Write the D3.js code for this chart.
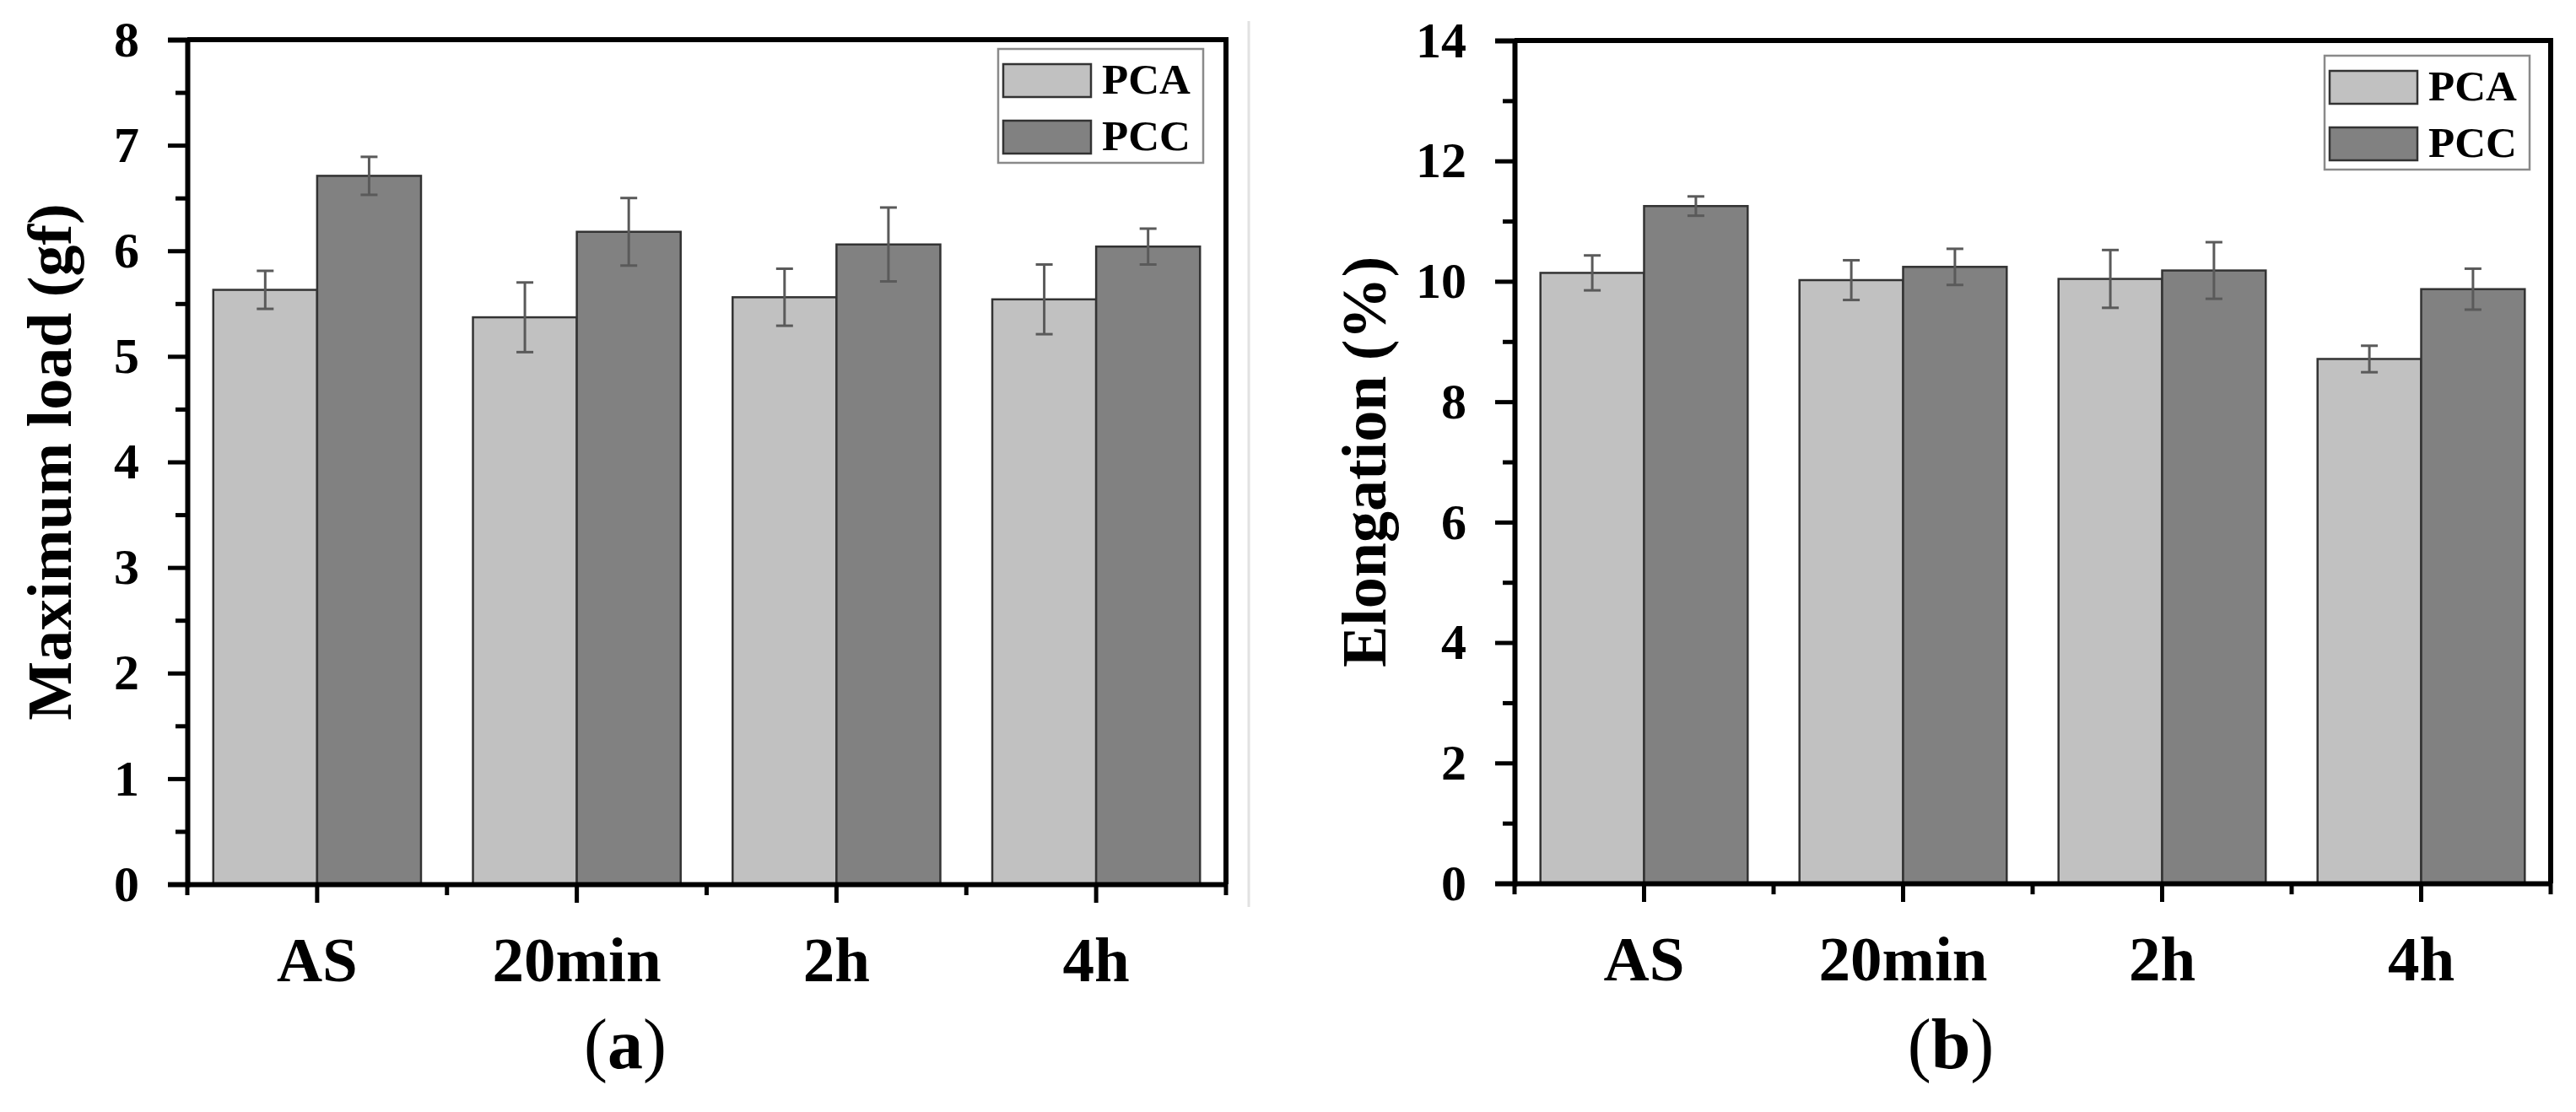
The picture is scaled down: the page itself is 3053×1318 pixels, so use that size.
<!doctype html>
<html lang="en">
<head>
<meta charset="UTF-8" />
<title>Maximum load and elongation</title>
<script src="https://cdn.jsdelivr.net/npm/d3@7/dist/d3.min.js"></script>
<style>
  html, body { margin: 0; padding: 0; background: #fff; }
  svg text { font-family: "Liberation Serif", "Times New Roman", serif; font-weight: bold; fill: #000; }
</style>
</head>
<body>
<svg id="fig" width="3053" height="1318"></svg>
<script>
// categories and series
var groups = ["AS", "20min", "2h", "4h"];
var series = ["PCA", "PCC"];
var colors = ["#c1c1c1", "#818181"];

// (a) maximum load, gf
var loadPCA = [5.63, 5.37, 5.56, 5.54];
var loadPCAerr = [0.18, 0.33, 0.27, 0.33];
var loadPCC = [6.71, 6.18, 6.06, 6.04];
var loadPCCerr = [0.18, 0.32, 0.35, 0.17];
var loadTicks = [0, 1, 2, 3, 4, 5, 6, 7, 8];
var loadMinor = [0.5, 1.5, 2.5, 3.5, 4.5, 5.5, 6.5, 7.5];

// (b) elongation, %
var elPCA = [10.14, 10.02, 10.04, 8.71];
var elPCAerr = [0.29, 0.33, 0.48, 0.22];
var elPCC = [11.25, 10.24, 10.18, 9.87];
var elPCCerr = [0.16, 0.30, 0.47, 0.34];
var elTicks = [0, 2, 4, 6, 8, 10, 12, 14];
var elMinor = [1, 3, 5, 7, 9, 11, 13];

var svg = d3.select("#fig");

// faint separator left over from the source figure
svg.append("line").attr("x1", 1480).attr("x2", 1480).attr("y1", 25).attr("y2", 1075)
   .attr("stroke", "#e2e2e2").attr("stroke-width", 3);

function panel(o) {
  var g = svg.append("g");
  var y = d3.scaleLinear().domain([0, o.ticks[o.ticks.length - 1]]).range([o.y0, o.y1]);
  var x = d3.scaleBand().domain(groups).range([o.x0, o.x1]).paddingInner(0.2).paddingOuter(0.1);
  var xs = d3.scaleBand().domain(series).range([0, x.bandwidth()]);
  var step = x.step();

  var rows = groups.map(function (grp, i) {
    return [
      { grp: grp, s: 0, v: o.a[i], e: o.ae[i] },
      { grp: grp, s: 1, v: o.b[i], e: o.be[i] }
    ];
  });
  var flat = [].concat.apply([], rows);

  // bars
  g.selectAll("rect.bar").data(flat).enter().append("rect")
    .attr("class", "bar")
    .attr("x", function (d) { return x(d.grp) + xs(series[d.s]); })
    .attr("width", xs.bandwidth())
    .attr("y", function (d) { return y(d.v); })
    .attr("height", function (d) { return y(0) - y(d.v); })
    .attr("fill", function (d) { return colors[d.s]; })
    .attr("stroke", "#333").attr("stroke-width", 2.5);

  // error bars
  var eb = g.selectAll("g.err").data(flat).enter().append("g").attr("class", "err")
    .attr("stroke", "#5a5a5a").attr("stroke-width", 3);
  var cx = function (d) { return x(d.grp) + xs(series[d.s]) + xs.bandwidth() / 2; };
  eb.append("line").attr("x1", cx).attr("x2", cx)
    .attr("y1", function (d) { return y(d.v + d.e); })
    .attr("y2", function (d) { return y(d.v - d.e); });
  [1, -1].forEach(function (sgn) {
    eb.append("line")
      .attr("x1", function (d) { return cx(d) - 10; })
      .attr("x2", function (d) { return cx(d) + 10; })
      .attr("y1", function (d) { return y(d.v + sgn * d.e); })
      .attr("y2", function (d) { return y(d.v + sgn * d.e); });
  });

  // y axis, major + minor ticks
  var yAx = g.append("g").attr("transform", "translate(" + o.x0 + ",0)")
    .call(d3.axisLeft(y).tickValues(o.ticks).tickSize(23).tickPadding(34).tickFormat(d3.format("d")));
  yAx.selectAll("text").style("font-size", "60px");
  g.append("g").attr("transform", "translate(" + o.x0 + ",0)")
    .call(d3.axisLeft(y).tickValues(o.minor).tickSize(14).tickFormat(""))
    .select(".domain").remove();

  // x axis, group centres + band boundaries
  var xAx = g.append("g").attr("transform", "translate(0," + o.y0 + ")")
    .call(d3.axisBottom(x).tickSize(22).tickPadding(40).tickSizeOuter(0));
  xAx.selectAll("text").style("font-size", "75px");
  var bounds = groups.map(function (grp) { return x(grp) - step * 0.1; }).concat([o.x1]);
  g.selectAll("line.minx").data(bounds).enter().append("line")
    .attr("x1", function (d) { return d; }).attr("x2", function (d) { return d; })
    .attr("y1", o.y0).attr("y2", o.y0 + 13)
    .attr("stroke", "#000").attr("stroke-width", 5);

  [yAx, xAx].forEach(function (a) {
    a.select(".domain").attr("stroke-width", 6);
    a.selectAll(".tick line").attr("stroke-width", 5);
  });
  g.selectAll(".tick line").attr("stroke-width", 5);

  // frame top and right
  g.append("path")
    .attr("d", "M" + o.x0 + "," + y.range()[1] + "H" + o.x1 + "V" + o.y0)
    .attr("fill", "none").attr("stroke", "#000").attr("stroke-width", 6);

  // y title
  g.append("text")
    .attr("transform", "translate(" + o.titleX + "," + ((o.y0 + o.y1) / 2) + ") rotate(-90)")
    .attr("text-anchor", "middle").style("font-size", "74px").text(o.title);

  // legend
  var lg = g.append("g").attr("transform", "translate(" + o.legX + "," + o.legY + ")");
  lg.append("rect").attr("width", 243).attr("height", 135)
    .attr("fill", "#fff").attr("stroke", "#8a8a8a").attr("stroke-width", 2.5);
  series.forEach(function (s, i) {
    lg.append("rect").attr("x", 6).attr("y", 18 + i * 67).attr("width", 104).attr("height", 39)
      .attr("fill", colors[i]).attr("stroke", "#333").attr("stroke-width", 2.5);
    lg.append("text").attr("x", 123).attr("y", 53 + i * 67).style("font-size", "51px").text(s);
  });

  // panel caption
  var cap = g.append("text").attr("x", o.capX).attr("y", 1266).attr("text-anchor", "middle")
    .style("font-size", "84px").style("font-weight", "normal");
  cap.append("tspan").text("(");
  cap.append("tspan").style("font-weight", "bold").text(o.cap);
  cap.append("tspan").text(")");
}

panel({
  x0: 222, x1: 1453, y0: 1048, y1: 47,
  a: loadPCA, ae: loadPCAerr, b: loadPCC, be: loadPCCerr,
  ticks: loadTicks, minor: loadMinor,
  title: "Maximum load (gf)", titleX: 84,
  legX: 1183, legY: 58, capX: 741, cap: "a"
});

panel({
  x0: 1795, x1: 3023, y0: 1047, y1: 48,
  a: elPCA, ae: elPCAerr, b: elPCC, be: elPCCerr,
  ticks: elTicks, minor: elMinor,
  title: "Elongation (%)", titleX: 1642,
  legX: 2755, legY: 66, capX: 2312, cap: "b"
});
</script>
</body>
</html>
